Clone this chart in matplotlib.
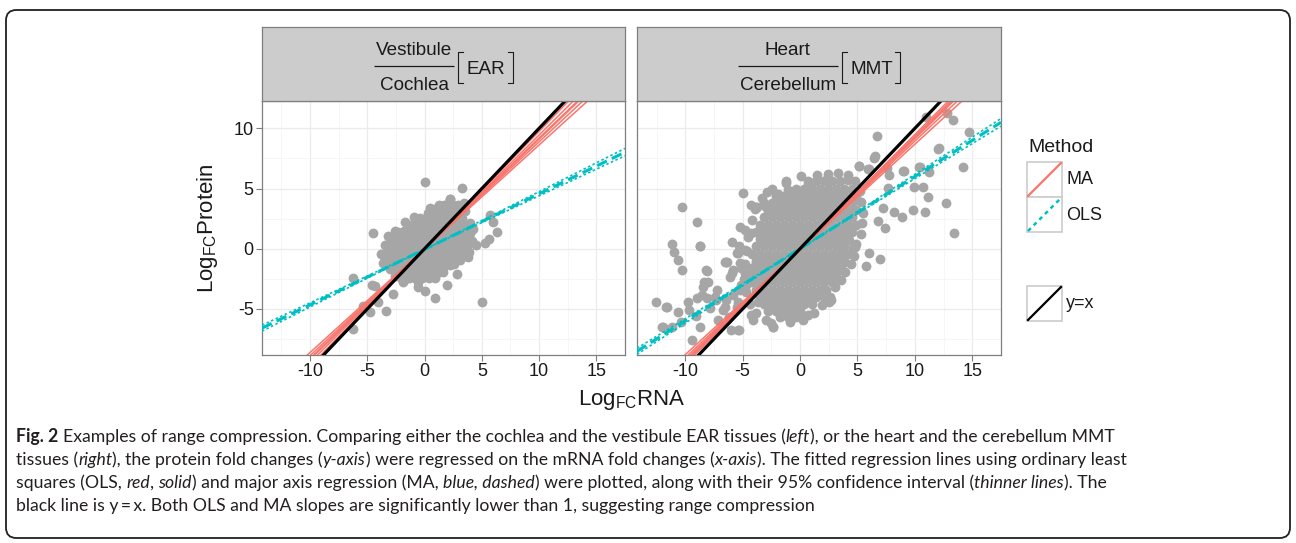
import matplotlib
matplotlib.use("Agg")
import matplotlib.pyplot as plt
from matplotlib.patches import FancyBboxPatch, Rectangle
from matplotlib.lines import Line2D

plt.rcParams['font.family'] = ['Liberation Sans', 'DejaVu Sans']
plt.rcParams['axes.unicode_minus'] = False

# ---------------- data ----------------
x_ticks = [-10, -5, 0, 5, 10, 15]
y_ticks = [-5, 0, 5, 10]
x_lim = (-14.2, 16.1)
y_lim = (-8.83, 12.27)

# EAR panel: dense core, one list of x per row
ear_core_y = [-2.45, -1.9, -1.35, -0.8, -0.25, 0.3, 0.85, 1.4, 1.95, 2.5, 3.05, 3.6, 4.1]
ear_core_x = [
    [-1.4, -0.8, -0.2, 0.4],
    [-2.3, -1.7, -1.1, -0.5, 0.1, 0.7, 1.3],
    [-3.2, -2.6, -2.0, -1.4, -0.8, -0.2, 0.4, 1.0, 1.6, 2.2],
    [-3.5, -2.9, -2.3, -1.7, -1.1, -0.5, 0.1, 0.7, 1.3, 1.9, 2.5, 3.1],
    [-3.2, -2.6, -2.0, -1.4, -0.8, -0.2, 0.4, 1.0, 1.6, 2.2, 2.8, 3.4],
    [-3.5, -2.9, -2.3, -1.7, -1.1, -0.5, 0.1, 0.7, 1.3, 1.9, 2.5, 3.1, 3.7],
    [-2.6, -2.0, -1.4, -0.8, -0.2, 0.4, 1.0, 1.6, 2.2, 2.8, 3.4, 3.9],
    [-2.3, -1.7, -1.1, -0.5, 0.1, 0.7, 1.3, 1.9, 2.5, 3.1, 3.7],
    [-1.4, -0.8, -0.2, 0.4, 1.0, 1.6, 2.2, 2.8, 3.4],
    [-0.5, 0.1, 0.7, 1.3, 1.9, 2.5, 3.1],
    [1.0, 1.6, 2.2, 2.8],
    [1.3, 1.9, 2.5],
    [2.2],
]
# EAR panel: scattered points
ear_rna = [0.05, 3.3, -4.47, -6.25, -4.6, -4.3, -4.06, -4.8, -3.38, -6.28, -5.35, -2.72,
           -0.62, 0.0, 0.9, 1.97, 1.64, 2.53, 3.8, 5.03, 4.45, 5.3, 5.58, 6.36, 5.97, 5.74,
           3.4, 2.2, 1.7, -2.94, -1.83, -0.42, 3.94, 4.0, 2.8, -1.56, 0.94,
           -3.0, -2.6, -1.9, -0.6, 0.9, 1.6, 2.6, 3.1, 3.9, 4.1, 4.2, 3.3, 3.5, 2.9,
           1.2, 0.3, -0.9, -1.7, -2.6, -3.2, -3.8, -3.6, -2.1, 3.7, 0.5]
ear_protein = [5.5, 5.07, 1.27, -2.41, -3.0, -3.07, -4.46, -5.28, -5.2, -6.7, -4.75, -3.75,
               -3.22, -3.5, -4.13, -3.03, -1.55, -0.9, -0.72, -4.46, 0.3, 0.5, 0.8, 1.36, 2.24, 2.82,
               3.8, 4.15, 3.65, 0.62, 1.5, 2.56, 2.1, 1.27, -2.1, -2.47, -2.27,
               -1.7, -2.3, -2.75, -2.8, -2.4, -1.9, -1.3, -0.9, -0.3, 0.6, 1.6, 2.55, 3.1, 3.6,
               3.45, 3.0, 2.6, 2.2, 1.5, 1.05, -0.4, -1.2, -2.4, -0.6, 3.4]

# MMT panel: dense core, one list of x per row
mmt_core_y = [5.6, 5.0, 4.4, 3.8, 3.2, 2.6, 2.0, 1.4, 0.8, 0.2, -0.4, -1.0, -1.6,
              -2.2, -2.8, -3.4, -4.0, -4.6, -5.2, -5.7]
mmt_core_x = [
    [0.7, 1.4, 2.1, 2.8, 3.5],
    [-0.35, 0.35, 1.05, 1.75, 2.45, 3.15, 3.85, 4.55],
    [-2.1, -1.4, -0.7, 0.0, 0.7, 1.4, 2.1, 2.8, 3.5, 4.2, 4.9],
    [-2.45, -1.75, -1.05, -0.35, 0.35, 1.05, 1.75, 2.45, 3.15, 3.85, 4.55],
    [-2.8, -2.1, -1.4, -0.7, 0.0, 0.7, 1.4, 2.1, 2.8, 3.5, 4.2, 4.9],
    [-3.15, -2.45, -1.75, -1.05, -0.35, 0.35, 1.05, 1.75, 2.45, 3.15, 3.85, 4.55],
    [-3.5, -2.8, -2.1, -1.4, -0.7, 0.0, 0.7, 1.4, 2.1, 2.8, 3.5, 4.2, 4.9],
    [-3.85, -3.15, -2.45, -1.75, -1.05, -0.35, 0.35, 1.05, 1.75, 2.45, 3.15, 3.85, 4.55],
    [-3.5, -2.8, -2.1, -1.4, -0.7, 0.0, 0.7, 1.4, 2.1, 2.8, 3.5, 4.2],
    [-3.85, -3.15, -2.45, -1.75, -1.05, -0.35, 0.35, 1.05, 1.75, 2.45, 3.15, 3.85],
    [-4.2, -3.5, -2.8, -2.1, -1.4, -0.7, 0.0, 0.7, 1.4, 2.1, 2.8, 3.5, 4.2],
    [-3.85, -3.15, -2.45, -1.75, -1.05, -0.35, 0.35, 1.05, 1.75, 2.45, 3.15, 3.85],
    [-4.2, -3.5, -2.8, -2.1, -1.4, -0.7, 0.0, 0.7, 1.4, 2.1, 2.8, 3.5],
    [-4.4, -3.85, -3.15, -2.45, -1.75, -1.05, -0.35, 0.35, 1.05, 1.75, 2.45, 3.15],
    [-4.2, -3.5, -2.8, -2.1, -1.4, -0.7, 0.0, 0.7, 1.4, 2.1, 2.8],
    [-3.85, -3.15, -2.45, -1.75, -1.05, -0.35, 0.35, 1.05, 1.75, 2.3],
    [-3.5, -2.8, -2.1, -1.4, -0.7, 0.0, 0.7, 1.4],
    [-3.15, -2.45, -1.75, -1.05, -0.35, 0.35, 1.05],
    [-2.8, -2.1, -1.4, -0.7, 0.0],
    [-1.75, -1.05, -0.35],
]
# MMT panel: scattered points
mmt_rna = [-10.3, -9.0, -8.67, -11.14, -10.94, -10.6, -10.25, -12.53, -11.7, -12.0,
           -4.97, -3.72, -3.0, -1.22, 0.72, 2.25, 4.19, 5.17, 6.0, 6.47, 6.69, 10.94,
           13.3, 12.06, 14.75, 14.19, 10.39, 11.2, 9.0, 7.75, 7.67, 9.89, 10.72, 11.14,
           12.72, 10.92, 9.83, 8.92, 8.17, 7.25, 6.78, 7.39, 13.44, 6.0, 6.92, 5.78, 4.75,
           3.78, 2.53, 2.1, 2.53, 0.72, -1.36, -2.39, -5.39, -5.25, -6.5, -5.94, -4.28,
           -8.69, -8.08, -8.33, -11.6, -11.9, -11.14, -10.64, -9.8, -9.1, -8.75, -9.39,
           -7.86, -7.44, -7.17, -6.42, -5.5, -5.9, -5.2, -4.8, -4.67, -5.8, -6.47, -6.75,
           -6.05, -5.36, -3.69, -3.83, -2.36, 0.2, -4.25, -10.36, -9.67, -8.97, -8.14,
           -6.19, -5.5, -4.11, -8.42, 6.56, 5.11, 5.92, 7.53, 9.06, 10.44, 11.97, 12.8,
           -1.08, -1.9, 3.7, 4.3, 4.6, 3.6, 3.2, 2.6, -5.4, -4.83, -6.36, -5.8, -5.1,
           -6.08, -8.17, -8.03, -8.58, -7.19, -7.33, -6.5, 2.67, -3.86, -3.17, -4.83,
           -2.4, -1.2, 0.1, -3.3, -3.9, -4.2, -4.5, -4.6, -4.8, -4.9, -4.7, -4.4, -3.8,
           -3.0, -2.5, -0.9, 0.3, 1.2, 1.9, 2.6, 3.0, 3.6, 3.9, 4.4, 4.7, 4.9, 5.3, 5.4,
           5.5, 5.3, 5.2, 4.8, 4.2, 3.3, 2.4, 1.5, -2.9, -4.3, -5.2, -5.3, -5.1, -5.4]
mmt_protein = [3.43, 2.19, 0.22, 0.39, -0.25, -0.94, -1.77, -4.46, -4.88, -6.48,
               4.6, 3.49, 3.49, 5.43, 5.37, 5.7, 5.7, 6.87, 6.65, 7.56, 9.36, 10.97,
               10.69, 8.34, 9.72, 6.76, 6.81, 6.4, 6.48, 6.12, 5.01, 5.15, 5.15, 4.32,
               3.82, 3.02, 3.21, 2.66, 3.07, 3.35, 2.33, 1.69, 1.27, -0.39, -0.86, -1.41, 0.17,
               -1.22, -2.05, -3.99, -4.4, -5.51, -5.24, -6.48, -6.76, -3.43, -1.08, 0.58, 1.27,
               0.25, -1.83, -2.74, -4.87, -6.48, -6.48, -5.23, -4.4, -5.59, -6.48, -7.58,
               -4.95, -3.99, -5.92, -1.08, -0.39, -2.05, -1.2, -2.05, -3.02, -3.85, -4.26, -5.09,
               -6.75, -6.75, -4.4, -1.2, -6.48, -5.5, -5.5, -6.06, -5.09, -4.12, -4.12,
               -5.64, -4.82, -5.92, -3.15, 7.7, 6.9, 6.6, 6.68, 6.45, 6.8, 8.25, 11.3,
               4.88, 4.54, 4.6, 0.72, 0.03, -0.1, -1.2, -2.05, -0.39, 1.55, -1.08, -1.77, -1.63,
               -2.33, -1.77, -2.74, -3.85, -3.43, -4.27, -4.82, -4.27, 3.49, 3.77, -0.11,
               5.0, 5.6, 6.0, 4.2, 3.3, 2.4, 1.0, -0.2, -1.3, -2.5, -3.6, -4.6, -5.3,
               -5.9, -6.2, -6.1, -5.9, -5.3, -4.7, -4.0, -3.2, -2.6, -1.9, -1.3, -0.6, 0.4, 1.2, 2.1,
               3.0, 3.9, 4.8, 5.6, 6.1, 6.3, 6.2, 6.1, 4.7, 3.6, 1.8, 0.2, -3.0, -4.4]

# fitted lines: (intercept, slope)
ear_ma = (0.0, 0.915)
ear_ma_ci = [(0.0, 0.975), (0.0, 0.945), (0.0, 0.888), (0.0, 0.862)]
ear_ols = (-0.05, 0.461)
ear_ols_ci = [(-0.05, 0.479), (-0.05, 0.444)]
mmt_ma = (-0.06, 0.925)
mmt_ma_ci = [(-0.06, 0.955), (-0.06, 0.94), (-0.06, 0.90), (-0.06, 0.874)]
mmt_ols = (0.0, 0.60)
mmt_ols_ci = [(0.0, 0.618), (0.0, 0.582)]

panels = [
    ("Vestibule", "Cochlea", "EAR", ear_core_y, ear_core_x, ear_rna, ear_protein,
     ear_ma, ear_ma_ci, ear_ols, ear_ols_ci),
    ("Heart", "Cerebellum", "MMT", mmt_core_y, mmt_core_x, mmt_rna, mmt_protein,
     mmt_ma, mmt_ma_ci, mmt_ols, mmt_ols_ci),
]

RED = '#F8766D'
CYAN = '#00BFC4'
DOT = '#a6a6a6'
FRAME = '#7f7f7f'
INK = '#1a1a1a'

W, H = 1296, 543
fig = plt.figure(figsize=(W / 100, H / 100), dpi=100)
renderer = fig.canvas.get_renderer()


def px_axes(x0, y0, x1, y1):
    return fig.add_axes([x0 / W, 1 - y1 / H, (x1 - x0) / W, (y1 - y0) / H])


def text_w(ax, s, **kw):
    t = ax.text(0, 0, s, **kw)
    w = t.get_window_extent(renderer).width
    t.remove()
    return w


def draw_strip(st, num, den, tag, cx):
    # fraction with bracketed tag, laid out in pixel coordinates
    fs = 13.6
    wn = text_w(st, num, fontsize=fs)
    wd = text_w(st, den, fontsize=fs)
    wt = text_w(st, tag, fontsize=fs)
    frac_w = max(wn, wd) + 4
    total = frac_w + 4 + 8.5 + wt + 7.5
    x = cx - total / 2
    st.text(x + frac_w / 2, 55, num, fontsize=fs, ha='center', va='baseline', color=INK)
    st.text(x + frac_w / 2, 90, den, fontsize=fs, ha='center', va='baseline', color=INK)
    st.plot([x, x + frac_w], [66, 66], color=INK, lw=0.9, solid_capstyle='butt')
    bl = x + frac_w + 4
    st.plot([bl + 5, bl, bl, bl + 5], [52, 52, 83, 83], color=INK, lw=0.8)
    st.text(bl + 8.5, 73.5, tag, fontsize=fs, ha='left', va='baseline', color=INK)
    br = bl + 8.5 + wt + 7.5
    st.plot([br - 5, br, br, br - 5], [52, 52, 83, 83], color=INK, lw=0.8)


panel_x = [(262, 625), (637, 1001)]
for i, (num, den, tag, cy, cx, px, py, ma, ma_ci, ols, ols_ci) in enumerate(panels):
    x0, x1 = panel_x[i]
    ax = px_axes(x0, 101, x1, 355)
    ax.set_xlim(*x_lim)
    ax.set_ylim(*y_lim)
    ax.set_xticks(x_ticks)
    ax.set_yticks(y_ticks)
    ax.set_xticks([t - 2.5 for t in x_ticks] + [17.5], minor=True)
    ax.set_yticks([t - 2.5 for t in y_ticks], minor=True)
    ax.grid(which='major', color='#ebebeb', lw=0.9)
    ax.grid(which='minor', color='#f5f5f5', lw=0.6)
    ax.set_axisbelow(True)
    ax.tick_params(which='minor', length=0)
    ax.tick_params(which='major', length=4, width=0.8, color=FRAME, labelsize=13,
                   pad=2, labelcolor=INK)
    if i > 0:
        ax.tick_params(axis='y', length=0, labelleft=False)
    for s in ax.spines.values():
        s.set_color(FRAME)
        s.set_linewidth(0.9)

    # points
    core_px = [x for row in cx for x in row]
    core_py = [y for y, row in zip(cy, cx) for _ in row]
    ax.scatter(core_px, core_py, s=50, color=DOT, lw=0, zorder=2)
    ax.scatter(px, py, s=50, color=DOT, lw=0, zorder=2)

    # regression lines
    for b, m in ma_ci:
        ax.axline((0, b), slope=m, color=RED, lw=1.1, zorder=3)
    ax.axline((0, ma[0]), slope=ma[1], color=RED, lw=1.7, zorder=3)
    for b, m in ols_ci:
        ax.axline((0, b), slope=m, color=CYAN, lw=1.2, ls=(0, (1.5, 1.5)), zorder=4)
    ax.axline((0, ols[0]), slope=ols[1], color=CYAN, lw=2.2, ls=(0, (3.5, 1.8)), zorder=4)
    ax.axline((0, 0), slope=1, color='black', lw=2.3, zorder=5)

    # facet strip
    st = px_axes(x0, 27, x1, 101)
    st.set_facecolor('#cccccc')
    st.set_xlim(x0, x1)
    st.set_ylim(101, 27)
    st.set_xticks([])
    st.set_yticks([])
    for s in st.spines.values():
        s.set_color(FRAME)
        s.set_linewidth(0.9)
    draw_strip(st, num, den, tag, (x0 + x1) / 2)

# axis titles
fig.text(208 / W, 1 - 228 / H, r'Log$_{\mathregular{FC}}$Protein', rotation=90,
         ha='center', va='center', fontsize=16, color=INK)
fig.text(632 / W, 1 - 400 / H, r'Log$_{\mathregular{FC}}$RNA',
         ha='center', va='center', fontsize=16, color=INK)

# legend, drawn in pixel coordinates
lg = px_axes(1015, 125, 1140, 335)
lg.set_xlim(1015, 1140)
lg.set_ylim(335, 125)
lg.axis('off')
lg.text(1028, 147, 'Method', fontsize=14, va='center', ha='left', color=INK)
legend_items = [(162, RED, '-', 'MA'), (197, CYAN, (0, (1.6, 1.6)), 'OLS'), (286, 'black', '-', 'y=x')]
for ytop, col, ls, lab in legend_items:
    lg.add_patch(Rectangle((1027, ytop), 35, 35, facecolor='white', edgecolor='#cccccc', lw=1.2))
    lg.add_line(Line2D([1028, 1061], [ytop + 34, ytop + 1], color=col, ls=ls,
                       lw=1.6 if lab != 'OLS' else 1.8))
    lg.text(1066, ytop + 18, lab, fontsize=13, va='center', ha='left', color=INK)

# caption
cap_font = ['Lato', 'DejaVu Sans']
caption_lines = [
    [("Fig. 2", 'b'), (" Examples of range compression. Comparing either the cochlea and the vestibule EAR tissues (", 'n'),
     ("left", 'i'), ("), or the heart and the cerebellum MMT", 'n')],
    [("tissues (", 'n'), ("right", 'i'), ("), the protein fold changes (", 'n'), ("y-axis", 'i'),
     (") were regressed on the mRNA fold changes (", 'n'), ("x-axis", 'i'),
     ("). The fitted regression lines using ordinary least", 'n')],
    [("squares (OLS, ", 'n'), ("red", 'i'), (", ", 'n'), ("solid", 'i'), (") and major axis regression (MA, ", 'n'),
     ("blue, dashed", 'i'), (") were plotted, along with their 95% confidence interval (", 'n'),
     ("thinner lines", 'i'), ("). The", 'n')],
    [("black line is y\u2009=\u2009x. Both OLS and MA slopes are significantly lower than 1, suggesting range compression", 'n')],
]
caption_base = [442, 465, 488, 511]


def layout_caption(size):
    made = []
    sp = fig.text(0, 0, 'x x', fontsize=size, family=cap_font)
    sp2 = fig.text(0, 0, 'xx', fontsize=size, family=cap_font)
    space_w = sp.get_window_extent(renderer).width - sp2.get_window_extent(renderer).width
    sp.remove()
    sp2.remove()
    right = 0
    for yb, segs in zip(caption_base, caption_lines):
        x = 16
        for txt, sty in segs:
            if txt.startswith(' '):
                x += space_w
            t = fig.text(x / W, 1 - yb / H, txt.strip(), fontsize=size, family=cap_font,
                         va='baseline', ha='left',
                         fontweight='bold' if sty == 'b' else 'normal',
                         fontstyle='italic' if sty == 'i' else 'normal', color='#231f20')
            made.append(t)
            x = t.get_window_extent(renderer).x1
            if txt.endswith(' '):
                x += space_w
        right = max(right, x)
    return made, right


made, right = layout_caption(11)
for t in made:
    t.remove()
layout_caption(11 * (1128 - 16) / (right - 16))

# rounded outer frame
frame = FancyBboxPatch((6 / W, 5 / H), 1284 / W, 528 / H,
                       boxstyle='round,pad=0,rounding_size=0.008', transform=fig.transFigure,
                       facecolor='none', edgecolor='#231f20', lw=1.3, mutation_aspect=W / H)
fig.patches.append(frame)

fig.savefig('out.png', dpi=100)
